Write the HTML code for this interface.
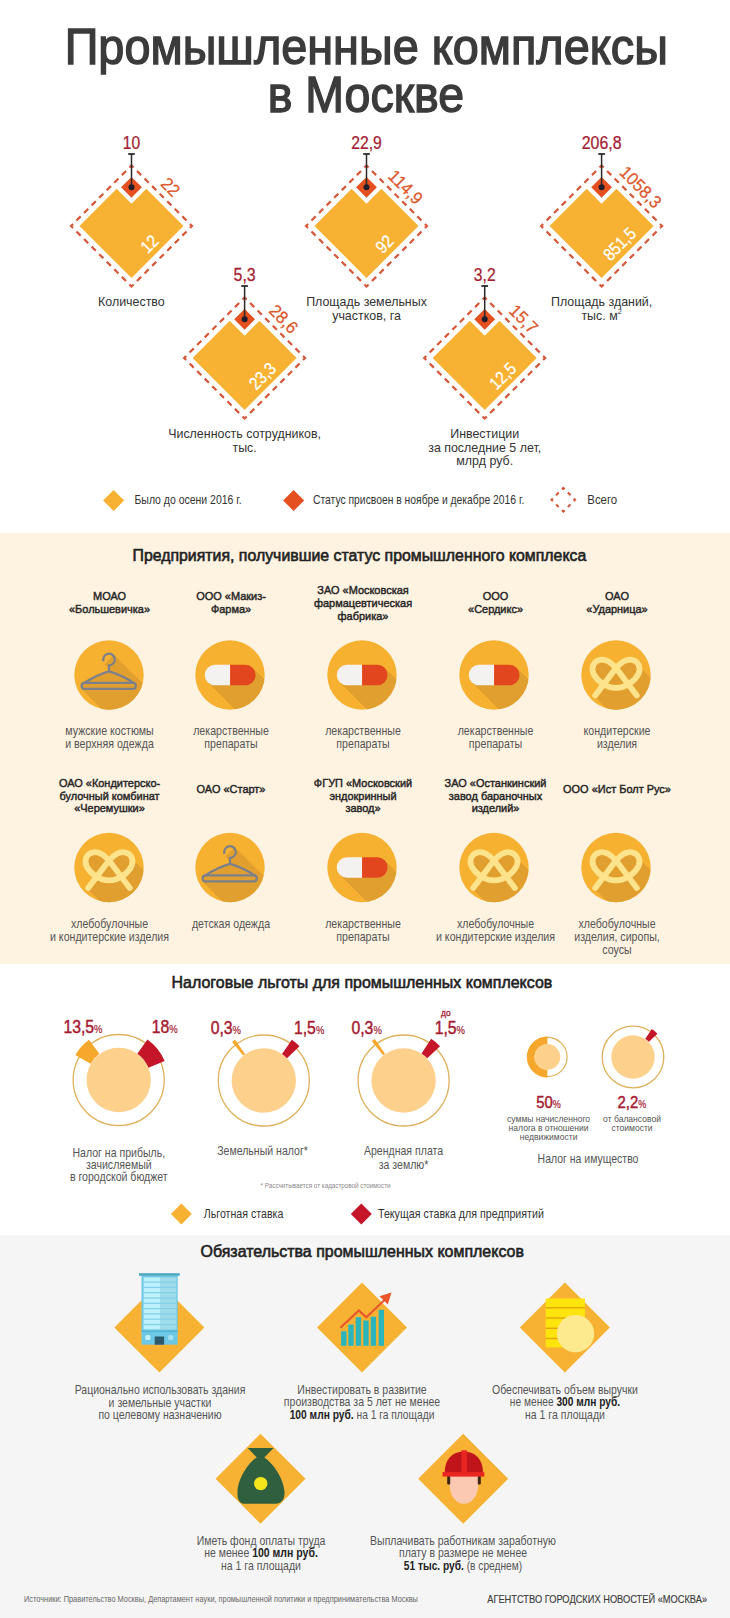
<!DOCTYPE html><html><head><meta charset="utf-8"><style>html,body{margin:0;padding:0;background:#fff;}svg{display:block;font-family:"Liberation Sans", "DejaVu Sans", sans-serif;}</style></head><body>
<svg width="730" height="1618" viewBox="0 0 730 1618">
<rect x="0" y="0" width="730" height="1618" fill="#ffffff"/>
<rect x="0" y="533" width="730" height="431" fill="#fef2e0"/>
<rect x="0" y="1235" width="730" height="383" fill="#f5f5f5"/>
<text transform="translate(366.25 64.20) scale(0.937 1)" font-size="50" fill="#3b3b3b" font-weight="400" text-anchor="middle" stroke="#3b3b3b" stroke-width="1.4">Промышленные комплексы</text>
<text transform="translate(365.90 112.20) scale(0.93 1)" font-size="50" fill="#3b3b3b" font-weight="400" text-anchor="middle" stroke="#3b3b3b" stroke-width="1.4">в Москве</text>
<polygon points="79.50,226.00 116.65,188.85 131.50,203.70 146.35,188.85 183.50,226.00 131.50,278.00" fill="#f8b233"/>
<path d="M131.50 165.50 L192.00 226.00 L131.50 286.50 L71.00 226.00 Z" fill="none" stroke="#d6563a" stroke-width="2.2" stroke-dasharray="5.882 4.813" stroke-dashoffset="2.941"/>
<polygon points="131.50,176.90 141.90,187.30 131.50,197.70 121.10,187.30" fill="#e4501f"/>
<line x1="131.50" y1="154.00" x2="131.50" y2="187.30" stroke="#2a2a2a" stroke-width="1.5"/>
<line x1="128.20" y1="154.00" x2="134.80" y2="154.00" stroke="#2a2a2a" stroke-width="1.8"/>
<circle cx="131.50" cy="187.30" r="3" fill="#1d1d2b"/>
<text transform="translate(131.50 149.40) scale(0.843243 1)" font-size="18.5" fill="#a51b32" font-weight="400" text-anchor="middle" stroke="#a51b32" stroke-width="0.25">10</text>
<text transform="translate(170.50 187.00) rotate(45) scale(0.95 1)" font-size="17.5" fill="#dc572b" font-weight="400" text-anchor="middle" dy="6" stroke="#dc572b" stroke-width="0.25">22</text>
<text transform="translate(149.50 244.00) rotate(-45) scale(0.87 1)" font-size="17.5" fill="#ffffff" font-weight="400" text-anchor="middle" dy="6" stroke="#ffffff" stroke-width="0.25">12</text>
<polygon points="314.50,226.00 351.65,188.85 366.50,203.70 381.35,188.85 418.50,226.00 366.50,278.00" fill="#f8b233"/>
<path d="M366.50 165.50 L427.00 226.00 L366.50 286.50 L306.00 226.00 Z" fill="none" stroke="#d6563a" stroke-width="2.2" stroke-dasharray="5.882 4.813" stroke-dashoffset="2.941"/>
<polygon points="366.50,176.90 376.90,187.30 366.50,197.70 356.10,187.30" fill="#e4501f"/>
<line x1="366.50" y1="154.00" x2="366.50" y2="187.30" stroke="#2a2a2a" stroke-width="1.5"/>
<line x1="363.20" y1="154.00" x2="369.80" y2="154.00" stroke="#2a2a2a" stroke-width="1.8"/>
<circle cx="366.50" cy="187.30" r="3" fill="#1d1d2b"/>
<text transform="translate(366.50 149.40) scale(0.850256 1)" font-size="18.5" fill="#a51b32" font-weight="400" text-anchor="middle" stroke="#a51b32" stroke-width="0.25">22,9</text>
<text transform="translate(405.50 187.00) rotate(45) scale(0.95 1)" font-size="17.5" fill="#dc572b" font-weight="400" text-anchor="middle" dy="6" stroke="#dc572b" stroke-width="0.25">114,9</text>
<text transform="translate(384.50 244.00) rotate(-45) scale(0.87 1)" font-size="17.5" fill="#ffffff" font-weight="400" text-anchor="middle" dy="6" stroke="#ffffff" stroke-width="0.25">92</text>
<polygon points="549.60,226.00 586.75,188.85 601.60,203.70 616.45,188.85 653.60,226.00 601.60,278.00" fill="#f8b233"/>
<path d="M601.60 165.50 L662.10 226.00 L601.60 286.50 L541.10 226.00 Z" fill="none" stroke="#d6563a" stroke-width="2.2" stroke-dasharray="5.882 4.813" stroke-dashoffset="2.941"/>
<polygon points="601.60,176.90 612.00,187.30 601.60,197.70 591.20,187.30" fill="#e4501f"/>
<line x1="601.60" y1="154.00" x2="601.60" y2="187.30" stroke="#2a2a2a" stroke-width="1.5"/>
<line x1="598.30" y1="154.00" x2="604.90" y2="154.00" stroke="#2a2a2a" stroke-width="1.8"/>
<circle cx="601.60" cy="187.30" r="3" fill="#1d1d2b"/>
<text transform="translate(601.60 149.40) scale(0.861276 1)" font-size="18.5" fill="#a51b32" font-weight="400" text-anchor="middle" stroke="#a51b32" stroke-width="0.25">206,8</text>
<text transform="translate(640.60 187.00) rotate(45) scale(0.95 1)" font-size="17.5" fill="#dc572b" font-weight="400" text-anchor="middle" dy="6" stroke="#dc572b" stroke-width="0.25">1058,3</text>
<text transform="translate(619.60 244.00) rotate(-45) scale(0.87 1)" font-size="17.5" fill="#ffffff" font-weight="400" text-anchor="middle" dy="6" stroke="#ffffff" stroke-width="0.25">851,5</text>
<polygon points="192.60,358.00 229.75,320.85 244.60,335.70 259.45,320.85 296.60,358.00 244.60,410.00" fill="#f8b233"/>
<path d="M244.60 297.50 L305.10 358.00 L244.60 418.50 L184.10 358.00 Z" fill="none" stroke="#d6563a" stroke-width="2.2" stroke-dasharray="5.882 4.813" stroke-dashoffset="2.941"/>
<polygon points="244.60,308.90 255.00,319.30 244.60,329.70 234.20,319.30" fill="#e4501f"/>
<line x1="244.60" y1="286.00" x2="244.60" y2="319.30" stroke="#2a2a2a" stroke-width="1.5"/>
<line x1="241.30" y1="286.00" x2="247.90" y2="286.00" stroke="#2a2a2a" stroke-width="1.8"/>
<circle cx="244.60" cy="319.30" r="3" fill="#1d1d2b"/>
<text transform="translate(244.60 281.40) scale(0.862389 1)" font-size="18.5" fill="#a51b32" font-weight="400" text-anchor="middle" stroke="#a51b32" stroke-width="0.25">5,3</text>
<text transform="translate(283.60 319.00) rotate(45) scale(0.95 1)" font-size="17.5" fill="#dc572b" font-weight="400" text-anchor="middle" dy="6" stroke="#dc572b" stroke-width="0.25">28,6</text>
<text transform="translate(262.60 376.00) rotate(-45) scale(0.87 1)" font-size="17.5" fill="#ffffff" font-weight="400" text-anchor="middle" dy="6" stroke="#ffffff" stroke-width="0.25">23,3</text>
<polygon points="432.70,358.00 469.85,320.85 484.70,335.70 499.55,320.85 536.70,358.00 484.70,410.00" fill="#f8b233"/>
<path d="M484.70 297.50 L545.20 358.00 L484.70 418.50 L424.20 358.00 Z" fill="none" stroke="#d6563a" stroke-width="2.2" stroke-dasharray="5.882 4.813" stroke-dashoffset="2.941"/>
<polygon points="484.70,308.90 495.10,319.30 484.70,329.70 474.30,319.30" fill="#e4501f"/>
<line x1="484.70" y1="286.00" x2="484.70" y2="319.30" stroke="#2a2a2a" stroke-width="1.5"/>
<line x1="481.40" y1="286.00" x2="488.00" y2="286.00" stroke="#2a2a2a" stroke-width="1.8"/>
<circle cx="484.70" cy="319.30" r="3" fill="#1d1d2b"/>
<text transform="translate(484.70 281.40) scale(0.85001 1)" font-size="18.5" fill="#a51b32" font-weight="400" text-anchor="middle" stroke="#a51b32" stroke-width="0.25">3,2</text>
<text transform="translate(523.70 319.00) rotate(45) scale(0.95 1)" font-size="17.5" fill="#dc572b" font-weight="400" text-anchor="middle" dy="6" stroke="#dc572b" stroke-width="0.25">15,7</text>
<text transform="translate(502.70 376.00) rotate(-45) scale(0.87 1)" font-size="17.5" fill="#ffffff" font-weight="400" text-anchor="middle" dy="6" stroke="#ffffff" stroke-width="0.25">12,5</text>
<text transform="translate(131.40 306.30) scale(0.92 1)" font-size="13.5" fill="#333333" font-weight="400" text-anchor="middle" >Количество</text>
<text transform="translate(366.50 306.30) scale(0.92 1)" font-size="13.5" fill="#333333" font-weight="400" text-anchor="middle" >Площадь земельных</text>
<text transform="translate(366.50 319.60) scale(0.92 1)" font-size="13.5" fill="#333333" font-weight="400" text-anchor="middle" >участков, га</text>
<text transform="translate(601.60 306.30) scale(0.92 1)" font-size="13.5" fill="#333333" font-weight="400" text-anchor="middle" >Площадь зданий,</text>
<text transform="translate(601.60 319.60) scale(0.92 1)" font-size="13.5" fill="#333333" font-weight="400" text-anchor="middle" >тыс. м<tspan font-size="8" dy="-5.5">2</tspan></text>
<text transform="translate(244.60 438.30) scale(0.92 1)" font-size="13.5" fill="#333333" font-weight="400" text-anchor="middle" >Численность сотрудников,</text>
<text transform="translate(244.60 452.00) scale(0.92 1)" font-size="13.5" fill="#333333" font-weight="400" text-anchor="middle" >тыс.</text>
<text transform="translate(484.70 438.00) scale(0.92 1)" font-size="13.5" fill="#333333" font-weight="400" text-anchor="middle" >Инвестиции</text>
<text transform="translate(484.70 451.70) scale(0.92 1)" font-size="13.5" fill="#333333" font-weight="400" text-anchor="middle" >за последние 5 лет,</text>
<text transform="translate(484.70 465.40) scale(0.92 1)" font-size="13.5" fill="#333333" font-weight="400" text-anchor="middle" >млрд руб.</text>
<polygon points="113.60,490.00 124.10,500.50 113.60,511.00 103.10,500.50" fill="#f8b233"/>
<text transform="translate(134.50 504.20) scale(0.874 1)" font-size="12" fill="#333333" font-weight="400" text-anchor="start" >Было до осени 2016 г.</text>
<polygon points="293.60,490.00 304.10,500.50 293.60,511.00 283.10,500.50" fill="#e4501f"/>
<text transform="translate(313.00 504.20) scale(0.862 1)" font-size="12" fill="#333333" font-weight="400" text-anchor="start" >Статус присвоен в ноябре и декабре 2016 г.</text>
<path d="M563.30 488.00 L575.10 499.80 L563.30 511.60 L551.50 499.80 Z" fill="none" stroke="#d6563a" stroke-width="2" stroke-dasharray="3.755 4.589" stroke-dashoffset="1.877"/>
<text transform="translate(587.30 504.20) scale(0.95 1)" font-size="12" fill="#333333" font-weight="400" text-anchor="start" >Всего</text>
<text transform="translate(359.40 561.00) scale(0.974112 1)" font-size="16.3" fill="#222" font-weight="400" text-anchor="middle" stroke="#222" stroke-width="0.6">Предприятия, получившие статус промышленного комплекса</text>
<text transform="translate(109.50 600.00) scale(0.93 1)" font-size="11.8" fill="#262626" font-weight="400" text-anchor="middle" stroke="#262626" stroke-width="0.45">МОАО</text>
<text transform="translate(109.50 613.00) scale(0.93 1)" font-size="11.8" fill="#262626" font-weight="400" text-anchor="middle" stroke="#262626" stroke-width="0.45">«Большевичка»</text>
<clipPath id="ca0"><circle cx="109.00" cy="675.00" r="34.7"/></clipPath>
<circle cx="109.00" cy="675.00" r="34.7" fill="#f7b130"/>
<g clip-path="url(#ca0)">
<polygon points="113.90,654.60 183.90,724.60 151.50,759.00 81.50,689.00 81.50,683.50 109.00,671.40 109.00,669.30 104.10,664.40" fill="#e19f2f"/>
<path d="M103.55 661.48 A5.80 5.80 0 1 1 109.00 665.30 L109.00 671.40" fill="none" stroke="#7b808b" stroke-width="2.2"/>
<path d="M109.00 671.40 Q97.00 674.80 84.20 682.90 M109.00 671.40 Q121.00 674.80 133.80 682.90" fill="none" stroke="#7b808b" stroke-width="2.2" stroke-linecap="round"/>
<rect x="81.60" y="682.90" width="54.20" height="6" rx="3" fill="none" stroke="#7b808b" stroke-width="2.2"/>
</g>
<text transform="translate(109.50 735.10) scale(0.885 1)" font-size="12" fill="#555555" font-weight="400" text-anchor="middle" >мужские костюмы</text>
<text transform="translate(109.50 748.10) scale(0.885 1)" font-size="12" fill="#555555" font-weight="400" text-anchor="middle" >и верхняя одежда</text>
<text transform="translate(231.00 600.00) scale(0.93 1)" font-size="11.8" fill="#262626" font-weight="400" text-anchor="middle" stroke="#262626" stroke-width="0.45">ООО «Макиз-</text>
<text transform="translate(231.00 613.00) scale(0.93 1)" font-size="11.8" fill="#262626" font-weight="400" text-anchor="middle" stroke="#262626" stroke-width="0.45">Фарма»</text>
<clipPath id="ca1"><circle cx="230.00" cy="675.00" r="34.7"/></clipPath>
<circle cx="230.00" cy="675.00" r="34.7" fill="#f7b130"/>
<g clip-path="url(#ca1)">
<polygon points="252.60,667.70 322.60,737.70 277.70,752.30 207.70,682.30" fill="#e19f2f"/>
<path d="M230.10 664.70 L215.00 664.70 A10.30 10.30 0 0 0 215.00 685.30 L230.10 685.30 Z" fill="#f3f2f0"/>
<path d="M230.10 664.70 L245.30 664.70 A10.30 10.30 0 0 1 245.30 685.30 L230.10 685.30 Z" fill="#e2461e"/>
</g>
<text transform="translate(231.00 735.10) scale(0.885 1)" font-size="12" fill="#555555" font-weight="400" text-anchor="middle" >лекарственные</text>
<text transform="translate(231.00 748.10) scale(0.885 1)" font-size="12" fill="#555555" font-weight="400" text-anchor="middle" >препараты</text>
<text transform="translate(363.00 593.50) scale(0.93 1)" font-size="11.8" fill="#262626" font-weight="400" text-anchor="middle" stroke="#262626" stroke-width="0.45">ЗАО «Московская</text>
<text transform="translate(363.00 606.50) scale(0.93 1)" font-size="11.8" fill="#262626" font-weight="400" text-anchor="middle" stroke="#262626" stroke-width="0.45">фармацевтическая</text>
<text transform="translate(363.00 619.50) scale(0.93 1)" font-size="11.8" fill="#262626" font-weight="400" text-anchor="middle" stroke="#262626" stroke-width="0.45">фабрика»</text>
<clipPath id="ca2"><circle cx="362.00" cy="675.00" r="34.7"/></clipPath>
<circle cx="362.00" cy="675.00" r="34.7" fill="#f7b130"/>
<g clip-path="url(#ca2)">
<polygon points="384.60,667.70 454.60,737.70 409.70,752.30 339.70,682.30" fill="#e19f2f"/>
<path d="M362.10 664.70 L347.00 664.70 A10.30 10.30 0 0 0 347.00 685.30 L362.10 685.30 Z" fill="#f3f2f0"/>
<path d="M362.10 664.70 L377.30 664.70 A10.30 10.30 0 0 1 377.30 685.30 L362.10 685.30 Z" fill="#e2461e"/>
</g>
<text transform="translate(363.00 735.10) scale(0.885 1)" font-size="12" fill="#555555" font-weight="400" text-anchor="middle" >лекарственные</text>
<text transform="translate(363.00 748.10) scale(0.885 1)" font-size="12" fill="#555555" font-weight="400" text-anchor="middle" >препараты</text>
<text transform="translate(495.50 600.00) scale(0.93 1)" font-size="11.8" fill="#262626" font-weight="400" text-anchor="middle" stroke="#262626" stroke-width="0.45">ООО</text>
<text transform="translate(495.50 613.00) scale(0.93 1)" font-size="11.8" fill="#262626" font-weight="400" text-anchor="middle" stroke="#262626" stroke-width="0.45">«Сердикс»</text>
<clipPath id="ca3"><circle cx="494.00" cy="675.00" r="34.7"/></clipPath>
<circle cx="494.00" cy="675.00" r="34.7" fill="#f7b130"/>
<g clip-path="url(#ca3)">
<polygon points="516.60,667.70 586.60,737.70 541.70,752.30 471.70,682.30" fill="#e19f2f"/>
<path d="M494.10 664.70 L479.00 664.70 A10.30 10.30 0 0 0 479.00 685.30 L494.10 685.30 Z" fill="#f3f2f0"/>
<path d="M494.10 664.70 L509.30 664.70 A10.30 10.30 0 0 1 509.30 685.30 L494.10 685.30 Z" fill="#e2461e"/>
</g>
<text transform="translate(495.50 735.10) scale(0.885 1)" font-size="12" fill="#555555" font-weight="400" text-anchor="middle" >лекарственные</text>
<text transform="translate(495.50 748.10) scale(0.885 1)" font-size="12" fill="#555555" font-weight="400" text-anchor="middle" >препараты</text>
<text transform="translate(617.00 600.00) scale(0.93 1)" font-size="11.8" fill="#262626" font-weight="400" text-anchor="middle" stroke="#262626" stroke-width="0.45">ОАО</text>
<text transform="translate(617.00 613.00) scale(0.93 1)" font-size="11.8" fill="#262626" font-weight="400" text-anchor="middle" stroke="#262626" stroke-width="0.45">«Ударница»</text>
<clipPath id="ca4"><circle cx="616.00" cy="675.00" r="34.7"/></clipPath>
<circle cx="616.00" cy="675.00" r="34.7" fill="#f7b130"/>
<g clip-path="url(#ca4)">
<polygon points="636.00,660.00 641.00,668.00 711.00,738.00 664.50,766.50 594.50,696.50" fill="#e19f2f"/>
<path d="M616.00 668.00 C621.25 662.12 626.50 659.03 631.75 659.76 C638.05 660.58 641.20 667.27 638.58 673.46 C635.42 680.15 626.50 687.88 616.00 687.88 C605.50 687.88 596.58 680.15 593.42 673.46 C590.80 667.27 593.95 660.58 600.25 659.76 C605.50 659.03 610.75 662.12 616.00 668.00 Z" fill="#e19f2f"/>
<path d="M595.21 695.39 L616.00 668.00 C621.25 662.12 626.50 659.03 631.75 659.76 C638.05 660.58 641.20 667.27 638.58 673.46 C635.42 680.15 626.50 687.88 616.00 687.88 C605.50 687.88 596.58 680.15 593.42 673.46 C590.80 667.27 593.95 660.58 600.25 659.76 C605.50 659.03 610.75 662.12 616.00 668.00 L636.79 695.39" fill="none" stroke="#fde48c" stroke-width="5.8" stroke-linecap="round" stroke-linejoin="round"/>
</g>
<text transform="translate(617.00 735.10) scale(0.885 1)" font-size="12" fill="#555555" font-weight="400" text-anchor="middle" >кондитерские</text>
<text transform="translate(617.00 748.10) scale(0.885 1)" font-size="12" fill="#555555" font-weight="400" text-anchor="middle" >изделия</text>
<text transform="translate(109.50 787.00) scale(0.93 1)" font-size="11.8" fill="#262626" font-weight="400" text-anchor="middle" stroke="#262626" stroke-width="0.45">ОАО «Кондитерско-</text>
<text transform="translate(109.50 799.70) scale(0.93 1)" font-size="11.8" fill="#262626" font-weight="400" text-anchor="middle" stroke="#262626" stroke-width="0.45">булочный комбинат</text>
<text transform="translate(109.50 812.40) scale(0.93 1)" font-size="11.8" fill="#262626" font-weight="400" text-anchor="middle" stroke="#262626" stroke-width="0.45">«Черемушки»</text>
<clipPath id="cb0"><circle cx="109.00" cy="867.50" r="34.7"/></clipPath>
<circle cx="109.00" cy="867.50" r="34.7" fill="#f7b130"/>
<g clip-path="url(#cb0)">
<polygon points="129.00,852.50 134.00,860.50 204.00,930.50 157.50,959.00 87.50,889.00" fill="#e19f2f"/>
<path d="M109.00 860.50 C114.25 854.62 119.50 851.53 124.75 852.26 C131.05 853.08 134.20 859.77 131.57 865.96 C128.43 872.65 119.50 880.38 109.00 880.38 C98.50 880.38 89.58 872.65 86.42 865.96 C83.80 859.77 86.95 853.08 93.25 852.26 C98.50 851.53 103.75 854.62 109.00 860.50 Z" fill="#e19f2f"/>
<path d="M88.21 887.89 L109.00 860.50 C114.25 854.62 119.50 851.53 124.75 852.26 C131.05 853.08 134.20 859.77 131.57 865.96 C128.43 872.65 119.50 880.38 109.00 880.38 C98.50 880.38 89.58 872.65 86.42 865.96 C83.80 859.77 86.95 853.08 93.25 852.26 C98.50 851.53 103.75 854.62 109.00 860.50 L129.79 887.89" fill="none" stroke="#fde48c" stroke-width="5.8" stroke-linecap="round" stroke-linejoin="round"/>
</g>
<text transform="translate(109.50 928.40) scale(0.885 1)" font-size="12" fill="#555555" font-weight="400" text-anchor="middle" >хлебобулочные</text>
<text transform="translate(109.50 941.10) scale(0.885 1)" font-size="12" fill="#555555" font-weight="400" text-anchor="middle" >и кондитерские изделия</text>
<text transform="translate(231.00 793.00) scale(0.93 1)" font-size="11.8" fill="#262626" font-weight="400" text-anchor="middle" stroke="#262626" stroke-width="0.45">ОАО «Старт»</text>
<clipPath id="cb1"><circle cx="230.00" cy="867.50" r="34.7"/></clipPath>
<circle cx="230.00" cy="867.50" r="34.7" fill="#f7b130"/>
<g clip-path="url(#cb1)">
<polygon points="234.90,847.10 304.90,917.10 272.50,951.50 202.50,881.50 202.50,876.00 230.00,863.90 230.00,861.80 225.10,856.90" fill="#e19f2f"/>
<path d="M224.55 853.98 A5.80 5.80 0 1 1 230.00 857.80 L230.00 863.90" fill="none" stroke="#7b808b" stroke-width="2.2"/>
<path d="M230.00 863.90 Q218.00 867.30 205.20 875.40 M230.00 863.90 Q242.00 867.30 254.80 875.40" fill="none" stroke="#7b808b" stroke-width="2.2" stroke-linecap="round"/>
<rect x="202.60" y="875.40" width="54.20" height="6" rx="3" fill="none" stroke="#7b808b" stroke-width="2.2"/>
</g>
<text transform="translate(231.00 928.40) scale(0.885 1)" font-size="12" fill="#555555" font-weight="400" text-anchor="middle" >детская одежда</text>
<text transform="translate(363.00 787.00) scale(0.93 1)" font-size="11.8" fill="#262626" font-weight="400" text-anchor="middle" stroke="#262626" stroke-width="0.45">ФГУП «Московский</text>
<text transform="translate(363.00 799.70) scale(0.93 1)" font-size="11.8" fill="#262626" font-weight="400" text-anchor="middle" stroke="#262626" stroke-width="0.45">эндокринный</text>
<text transform="translate(363.00 812.40) scale(0.93 1)" font-size="11.8" fill="#262626" font-weight="400" text-anchor="middle" stroke="#262626" stroke-width="0.45">завод»</text>
<clipPath id="cb2"><circle cx="362.00" cy="867.50" r="34.7"/></clipPath>
<circle cx="362.00" cy="867.50" r="34.7" fill="#f7b130"/>
<g clip-path="url(#cb2)">
<polygon points="384.60,860.20 454.60,930.20 409.70,944.80 339.70,874.80" fill="#e19f2f"/>
<path d="M362.10 857.20 L347.00 857.20 A10.30 10.30 0 0 0 347.00 877.80 L362.10 877.80 Z" fill="#f3f2f0"/>
<path d="M362.10 857.20 L377.30 857.20 A10.30 10.30 0 0 1 377.30 877.80 L362.10 877.80 Z" fill="#e2461e"/>
</g>
<text transform="translate(363.00 928.40) scale(0.885 1)" font-size="12" fill="#555555" font-weight="400" text-anchor="middle" >лекарственные</text>
<text transform="translate(363.00 941.10) scale(0.885 1)" font-size="12" fill="#555555" font-weight="400" text-anchor="middle" >препараты</text>
<text transform="translate(495.50 787.00) scale(0.93 1)" font-size="11.8" fill="#262626" font-weight="400" text-anchor="middle" stroke="#262626" stroke-width="0.45">ЗАО «Останкинский</text>
<text transform="translate(495.50 799.70) scale(0.93 1)" font-size="11.8" fill="#262626" font-weight="400" text-anchor="middle" stroke="#262626" stroke-width="0.45">завод бараночных</text>
<text transform="translate(495.50 812.40) scale(0.93 1)" font-size="11.8" fill="#262626" font-weight="400" text-anchor="middle" stroke="#262626" stroke-width="0.45">изделий»</text>
<clipPath id="cb3"><circle cx="494.00" cy="867.50" r="34.7"/></clipPath>
<circle cx="494.00" cy="867.50" r="34.7" fill="#f7b130"/>
<g clip-path="url(#cb3)">
<polygon points="514.00,852.50 519.00,860.50 589.00,930.50 542.50,959.00 472.50,889.00" fill="#e19f2f"/>
<path d="M494.00 860.50 C499.25 854.62 504.50 851.53 509.75 852.26 C516.05 853.08 519.20 859.77 516.58 865.96 C513.42 872.65 504.50 880.38 494.00 880.38 C483.50 880.38 474.57 872.65 471.43 865.96 C468.80 859.77 471.95 853.08 478.25 852.26 C483.50 851.53 488.75 854.62 494.00 860.50 Z" fill="#e19f2f"/>
<path d="M473.21 887.89 L494.00 860.50 C499.25 854.62 504.50 851.53 509.75 852.26 C516.05 853.08 519.20 859.77 516.58 865.96 C513.42 872.65 504.50 880.38 494.00 880.38 C483.50 880.38 474.57 872.65 471.43 865.96 C468.80 859.77 471.95 853.08 478.25 852.26 C483.50 851.53 488.75 854.62 494.00 860.50 L514.79 887.89" fill="none" stroke="#fde48c" stroke-width="5.8" stroke-linecap="round" stroke-linejoin="round"/>
</g>
<text transform="translate(495.50 928.40) scale(0.885 1)" font-size="12" fill="#555555" font-weight="400" text-anchor="middle" >хлебобулочные</text>
<text transform="translate(495.50 941.10) scale(0.885 1)" font-size="12" fill="#555555" font-weight="400" text-anchor="middle" >и кондитерские изделия</text>
<text transform="translate(617.00 793.00) scale(0.93 1)" font-size="11.8" fill="#262626" font-weight="400" text-anchor="middle" stroke="#262626" stroke-width="0.45">ООО «Ист Болт Рус»</text>
<clipPath id="cb4"><circle cx="616.00" cy="867.50" r="34.7"/></clipPath>
<circle cx="616.00" cy="867.50" r="34.7" fill="#f7b130"/>
<g clip-path="url(#cb4)">
<polygon points="636.00,852.50 641.00,860.50 711.00,930.50 664.50,959.00 594.50,889.00" fill="#e19f2f"/>
<path d="M616.00 860.50 C621.25 854.62 626.50 851.53 631.75 852.26 C638.05 853.08 641.20 859.77 638.58 865.96 C635.42 872.65 626.50 880.38 616.00 880.38 C605.50 880.38 596.58 872.65 593.42 865.96 C590.80 859.77 593.95 853.08 600.25 852.26 C605.50 851.53 610.75 854.62 616.00 860.50 Z" fill="#e19f2f"/>
<path d="M595.21 887.89 L616.00 860.50 C621.25 854.62 626.50 851.53 631.75 852.26 C638.05 853.08 641.20 859.77 638.58 865.96 C635.42 872.65 626.50 880.38 616.00 880.38 C605.50 880.38 596.58 872.65 593.42 865.96 C590.80 859.77 593.95 853.08 600.25 852.26 C605.50 851.53 610.75 854.62 616.00 860.50 L636.79 887.89" fill="none" stroke="#fde48c" stroke-width="5.8" stroke-linecap="round" stroke-linejoin="round"/>
</g>
<text transform="translate(617.00 928.40) scale(0.885 1)" font-size="12" fill="#555555" font-weight="400" text-anchor="middle" >хлебобулочные</text>
<text transform="translate(617.00 941.10) scale(0.885 1)" font-size="12" fill="#555555" font-weight="400" text-anchor="middle" >изделия, сиропы,</text>
<text transform="translate(617.00 953.80) scale(0.885 1)" font-size="12" fill="#555555" font-weight="400" text-anchor="middle" >соусы</text>
<text transform="translate(361.90 988.40) scale(0.979424 1)" font-size="16.3" fill="#222" font-weight="400" text-anchor="middle" stroke="#222" stroke-width="0.6">Налоговые льготы для промышленных комплексов</text>
<circle cx="118.70" cy="1080.00" r="45.50" fill="none" stroke="#deb15a" stroke-width="1.3"/>
<circle cx="118.70" cy="1080.00" r="32.20" fill="#fdd18c"/>
<path d="M88.96 1039.81 A50.00 50.00 0 0 0 75.40 1055.00 L90.55 1063.75 A32.50 32.50 0 0 1 99.37 1053.87 Z" fill="#f6a82c"/>
<path d="M164.62 1060.98 A49.70 49.70 0 0 0 147.42 1039.44 L137.31 1053.72 A32.20 32.20 0 0 1 148.45 1067.68 Z" fill="#c41529"/>
<circle cx="263.80" cy="1080.50" r="45.50" fill="none" stroke="#deb15a" stroke-width="1.3"/>
<circle cx="263.80" cy="1080.50" r="32.20" fill="#fdd18c"/>
<path d="M235.09 1039.81 A49.80 49.80 0 0 0 232.12 1042.07 L243.13 1055.42 A32.50 32.50 0 0 1 245.07 1053.94 Z" fill="#f6a82c"/>
<path d="M299.53 1046.24 A49.50 49.50 0 0 0 291.84 1039.71 L282.04 1053.96 A32.20 32.20 0 0 1 287.04 1058.21 Z" fill="#c41529"/>
<circle cx="403.60" cy="1080.50" r="45.50" fill="none" stroke="#deb15a" stroke-width="1.3"/>
<circle cx="403.60" cy="1080.50" r="32.20" fill="#fdd18c"/>
<path d="M374.78 1039.03 A50.50 50.50 0 0 0 371.82 1041.25 L383.15 1055.24 A32.50 32.50 0 0 1 385.05 1053.81 Z" fill="#f6a82c"/>
<path d="M440.05 1046.27 A50.00 50.00 0 0 0 431.20 1038.81 L421.54 1053.40 A32.50 32.50 0 0 1 427.29 1058.25 Z" fill="#c41529"/>
<circle cx="547.4" cy="1057" r="19.7" fill="none" stroke="#deb15a" stroke-width="1.2"/>
<path d="M547.40 1036.40 A20.60 20.60 0 0 0 547.40 1077.60 L547.40 1069.80 A12.80 12.80 0 0 1 547.40 1044.20 Z" fill="#f6a82c"/>
<circle cx="547.4" cy="1057" r="12.9" fill="#fdd18c"/>
<circle cx="633" cy="1057" r="30.8" fill="none" stroke="#deb15a" stroke-width="1.3"/>
<circle cx="633" cy="1057" r="21.7" fill="#fdd18c"/>
<path d="M657.45 1033.80 A33.70 33.70 0 0 0 651.84 1029.06 L645.30 1038.76 A22.00 22.00 0 0 1 648.96 1041.86 Z" fill="#c41529"/>
<text transform="translate(63.40 1032.50) scale(0.9 1)" font-size="17.5" fill="#a51b32" text-anchor="start" stroke="#a51b32" stroke-width="0.45">13,5<tspan font-size="10.5" stroke-width="0.2">%</tspan></text>
<text transform="translate(151.70 1032.50) scale(0.9 1)" font-size="17.5" fill="#a51b32" text-anchor="start" stroke="#a51b32" stroke-width="0.45">18<tspan font-size="10.5" stroke-width="0.2">%</tspan></text>
<text transform="translate(210.70 1033.50) scale(0.9 1)" font-size="17.5" fill="#a51b32" text-anchor="start" stroke="#a51b32" stroke-width="0.45">0,3<tspan font-size="10.5" stroke-width="0.2">%</tspan></text>
<text transform="translate(294.00 1033.50) scale(0.9 1)" font-size="17.5" fill="#a51b32" text-anchor="start" stroke="#a51b32" stroke-width="0.45">1,5<tspan font-size="10.5" stroke-width="0.2">%</tspan></text>
<text transform="translate(351.50 1033.50) scale(0.9 1)" font-size="17.5" fill="#a51b32" text-anchor="start" stroke="#a51b32" stroke-width="0.45">0,3<tspan font-size="10.5" stroke-width="0.2">%</tspan></text>
<text transform="translate(434.70 1033.50) scale(0.9 1)" font-size="17.5" fill="#a51b32" text-anchor="start" stroke="#a51b32" stroke-width="0.45">1,5<tspan font-size="10.5" stroke-width="0.2">%</tspan></text>
<text transform="translate(445.80 1015.50) scale(0.9 1)" font-size="9.5" fill="#a51b32" font-weight="400" text-anchor="middle" stroke="#a51b32" stroke-width="0.3">до</text>
<text transform="translate(548.60 1107.60) scale(0.9 1)" font-size="16.5" fill="#a51b32" text-anchor="middle" stroke="#a51b32" stroke-width="0.45">50<tspan font-size="10" stroke-width="0.2">%</tspan></text>
<text transform="translate(631.90 1107.60) scale(0.9 1)" font-size="16.5" fill="#a51b32" text-anchor="middle" stroke="#a51b32" stroke-width="0.45">2,2<tspan font-size="10" stroke-width="0.2">%</tspan></text>
<text transform="translate(118.80 1156.60) scale(0.88 1)" font-size="12" fill="#555555" font-weight="400" text-anchor="middle" >Налог на прибыль,</text>
<text transform="translate(118.80 1168.90) scale(0.88 1)" font-size="12" fill="#555555" font-weight="400" text-anchor="middle" >зачисляемый</text>
<text transform="translate(118.80 1181.20) scale(0.88 1)" font-size="12" fill="#555555" font-weight="400" text-anchor="middle" >в городской бюджет</text>
<text transform="translate(262.50 1155.30) scale(0.88 1)" font-size="12" fill="#555555" font-weight="400" text-anchor="middle" >Земельный налог*</text>
<text transform="translate(403.50 1155.30) scale(0.88 1)" font-size="12" fill="#555555" font-weight="400" text-anchor="middle" >Арендная плата</text>
<text transform="translate(403.50 1168.60) scale(0.88 1)" font-size="12" fill="#555555" font-weight="400" text-anchor="middle" >за землю*</text>
<text transform="translate(325.60 1187.50) scale(0.9 1)" font-size="7" fill="#8a8a8a" font-weight="400" text-anchor="middle" >* Рассчитывается от кадастровой стоимости</text>
<text transform="translate(548.60 1121.60) scale(0.95 1)" font-size="9" fill="#555555" font-weight="400" text-anchor="middle" >суммы начисленного</text>
<text transform="translate(548.60 1130.70) scale(0.95 1)" font-size="9" fill="#555555" font-weight="400" text-anchor="middle" >налога в отношении</text>
<text transform="translate(548.60 1139.80) scale(0.95 1)" font-size="9" fill="#555555" font-weight="400" text-anchor="middle" >недвижимости</text>
<text transform="translate(632.00 1121.60) scale(0.95 1)" font-size="9" fill="#555555" font-weight="400" text-anchor="middle" >от балансовой</text>
<text transform="translate(632.00 1130.70) scale(0.95 1)" font-size="9" fill="#555555" font-weight="400" text-anchor="middle" >стоимости</text>
<text transform="translate(588.00 1163.30) scale(0.874144 1)" font-size="12" fill="#555555" font-weight="400" text-anchor="middle" >Налог на имущество</text>
<polygon points="181.40,1203.50 191.90,1214.00 181.40,1224.50 170.90,1214.00" fill="#f8b233"/>
<text transform="translate(203.80 1218.00) scale(0.885 1)" font-size="12" fill="#333333" font-weight="400" text-anchor="start" >Льготная ставка</text>
<polygon points="361.30,1203.50 371.80,1214.00 361.30,1224.50 350.80,1214.00" fill="#c41529"/>
<text transform="translate(378.00 1218.00) scale(0.889 1)" font-size="12" fill="#333333" font-weight="400" text-anchor="start" >Текущая ставка для предприятий</text>
<text transform="translate(362.20 1256.90) scale(0.978677 1)" font-size="16.3" fill="#222" font-weight="400" text-anchor="middle" stroke="#222" stroke-width="0.6">Обязательства промышленных комплексов</text>
<polygon points="159.40,1282.60 204.40,1327.60 159.40,1372.60 114.40,1327.60" fill="#f8b233"/>
<polygon points="362.00,1282.50 407.00,1327.50 362.00,1372.50 317.00,1327.50" fill="#f8b233"/>
<polygon points="564.90,1282.40 609.90,1327.40 564.90,1372.40 519.90,1327.40" fill="#f8b233"/>
<polygon points="260.50,1433.70 305.50,1478.70 260.50,1523.70 215.50,1478.70" fill="#f8b233"/>
<polygon points="463.20,1433.70 508.20,1478.70 463.20,1523.70 418.20,1478.70" fill="#f8b233"/>
<rect x="141.5" y="1275.7" width="36.2" height="69" fill="#6cc8e5"/>
<rect x="143.6" y="1277.3" width="16.4" height="53" fill="#bdf1fb"/>
<rect x="160" y="1277.3" width="16.4" height="53" fill="#a0dbeb"/>
<rect x="143.6" y="1281.50" width="32.8" height="1.2" fill="#7fd0e8"/>
<rect x="143.6" y="1286.80" width="32.8" height="1.2" fill="#7fd0e8"/>
<rect x="143.6" y="1292.10" width="32.8" height="1.2" fill="#7fd0e8"/>
<rect x="143.6" y="1297.40" width="32.8" height="1.2" fill="#7fd0e8"/>
<rect x="143.6" y="1302.70" width="32.8" height="1.2" fill="#7fd0e8"/>
<rect x="143.6" y="1308.00" width="32.8" height="1.2" fill="#7fd0e8"/>
<rect x="143.6" y="1313.30" width="32.8" height="1.2" fill="#7fd0e8"/>
<rect x="143.6" y="1318.60" width="32.8" height="1.2" fill="#7fd0e8"/>
<rect x="143.6" y="1323.90" width="32.8" height="1.2" fill="#7fd0e8"/>
<rect x="143.6" y="1329.20" width="32.8" height="1.2" fill="#7fd0e8"/>
<rect x="141.5" y="1330.3" width="36.2" height="1.8" fill="#55b5d2"/>
<rect x="139" y="1273.2" width="40.7" height="2.6" fill="#4ea7c3"/>
<rect x="154.7" y="1336.5" width="9.4" height="8.2" fill="#2e5a6e"/>
<rect x="145.3" y="1335" width="5" height="5" rx="1.5" fill="#c6f3fb"/>
<rect x="168.2" y="1335" width="5" height="5" rx="1.5" fill="#a8e2f0"/>
<rect x="341.10" y="1331.30" width="5.4" height="14.50" fill="#2bb5bb"/>
<rect x="348.30" y="1324.50" width="5.4" height="21.30" fill="#2bb5bb"/>
<rect x="355.70" y="1317.20" width="5.4" height="28.60" fill="#2bb5bb"/>
<rect x="363.30" y="1320.50" width="5.4" height="25.30" fill="#2bb5bb"/>
<rect x="370.70" y="1316.70" width="5.4" height="29.10" fill="#2bb5bb"/>
<rect x="378.60" y="1309.80" width="5.4" height="36.00" fill="#2bb5bb"/>
<polyline points="340.4,1327.8 358.9,1310.5 366.3,1317.2 384.5,1300" fill="none" stroke="#e8562a" stroke-width="2.1" stroke-linejoin="miter"/>
<polygon points="391.5,1292.5 379.5,1296.2 387.8,1304.5" fill="#e8562a"/>
<rect x="545.7" y="1298.5" width="39.2" height="48.9" fill="#fde40c"/>
<rect x="545.7" y="1307.10" width="39.2" height="1.4" fill="#e6a408"/>
<rect x="545.7" y="1317.30" width="39.2" height="1.4" fill="#e6a408"/>
<rect x="545.7" y="1327.60" width="39.2" height="1.4" fill="#e6a408"/>
<rect x="545.7" y="1337.80" width="39.2" height="1.4" fill="#e6a408"/>
<circle cx="575.5" cy="1333.6" r="18.7" fill="#fde98e"/>
<path d="M256.7 1457.4 L247.8 1448 L273.6 1448 L264.3 1457.4 C272 1462 284 1478 284.5 1492 C285 1500 281 1503.7 276 1503.7 L245 1503.7 C240 1503.7 237 1500 237.5 1492 C238 1478 249 1462 256.7 1457.4 Z" fill="#305f40"/>
<circle cx="260.7" cy="1483.6" r="6.7" fill="#f7e51b"/>
<path d="M449.6 1475 L478.2 1475 L478.2 1484.5 C478.2 1496 471.5 1503.8 463.9 1503.8 C456.3 1503.8 449.6 1496 449.6 1484.5 Z" fill="#fbc9b1"/>
<rect x="447.2" y="1475" width="3" height="9.5" rx="1" fill="#3a2414"/>
<rect x="477.8" y="1475" width="3" height="9.5" rx="1" fill="#3a2414"/>
<path d="M444.7 1472.5 C444.7 1460 452 1451.6 463.8 1451.6 C475.6 1451.6 483 1460 483 1472.5 Z" fill="#c0141b"/>
<rect x="461.4" y="1450.3" width="5.6" height="22" fill="#e8261f"/>
<rect x="442.5" y="1472" width="41.8" height="4.6" fill="#e8261f"/>
<text transform="translate(160.00 1394.00) scale(0.876 1)" font-size="12" fill="#555555" font-weight="400" text-anchor="middle" >Рационально использовать здания</text>
<text transform="translate(160.00 1406.70) scale(0.876 1)" font-size="12" fill="#555555" font-weight="400" text-anchor="middle" >и земельные участки</text>
<text transform="translate(160.00 1419.40) scale(0.876 1)" font-size="12" fill="#555555" font-weight="400" text-anchor="middle" >по целевому назначению</text>
<text transform="translate(362.00 1393.50) scale(0.876 1)" font-size="12" fill="#555555" font-weight="400" text-anchor="middle" >Инвестировать в развитие</text>
<text transform="translate(362.00 1406.20) scale(0.876 1)" font-size="12" fill="#555555" font-weight="400" text-anchor="middle" >производства за 5 лет не менее</text>
<text transform="translate(362.00 1418.90) scale(0.8541 1)" font-size="12" fill="#555555" font-weight="400" text-anchor="middle" ><tspan font-weight="700" fill="#222">100 млн руб.</tspan> на 1 га площади</text>
<text transform="translate(565.00 1393.50) scale(0.876 1)" font-size="12" fill="#555555" font-weight="400" text-anchor="middle" >Обеспечивать объем выручки</text>
<text transform="translate(565.00 1406.20) scale(0.84972 1)" font-size="12" fill="#555555" font-weight="400" text-anchor="middle" >не менее <tspan font-weight="700" fill="#222">300 млн руб.</tspan></text>
<text transform="translate(565.00 1418.90) scale(0.876 1)" font-size="12" fill="#555555" font-weight="400" text-anchor="middle" >на 1 га площади</text>
<text transform="translate(261.00 1544.80) scale(0.876 1)" font-size="12" fill="#555555" font-weight="400" text-anchor="middle" >Иметь фонд оплаты труда</text>
<text transform="translate(261.00 1557.40) scale(0.876 1)" font-size="12" fill="#555555" font-weight="400" text-anchor="middle" >не менее <tspan font-weight="700" fill="#222">100 млн руб.</tspan></text>
<text transform="translate(261.00 1570.00) scale(0.876 1)" font-size="12" fill="#555555" font-weight="400" text-anchor="middle" >на 1 га площади</text>
<text transform="translate(463.00 1544.80) scale(0.876 1)" font-size="12" fill="#555555" font-weight="400" text-anchor="middle" >Выплачивать работникам заработную</text>
<text transform="translate(463.00 1557.40) scale(0.876 1)" font-size="12" fill="#555555" font-weight="400" text-anchor="middle" >плату в размере не менее</text>
<text transform="translate(463.00 1570.00) scale(0.84972 1)" font-size="12" fill="#555555" font-weight="400" text-anchor="middle" ><tspan font-weight="700" fill="#222">51 тыс. руб.</tspan> (в среднем)</text>
<text transform="translate(24.00 1601.50) scale(0.890238 1)" font-size="8.3" fill="#666" font-weight="400" text-anchor="start" >Источники: Правительство Москвы, Департамент науки, промышленной политики и предпринимательства Москвы</text>
<text transform="translate(487.20 1603.10) scale(0.799621 1)" font-size="11.6" fill="#3a3a3a" font-weight="400" text-anchor="start" stroke="#3a3a3a" stroke-width="0.15">АГЕНТСТВО ГОРОДСКИХ НОВОСТЕЙ «МОСКВА»</text>
</svg></body></html>
